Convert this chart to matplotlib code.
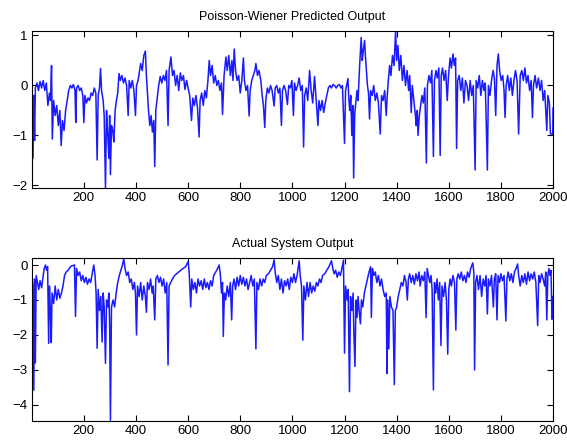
import numpy as np
import matplotlib
matplotlib.use("Agg")
import matplotlib.pyplot as plt

plt.rcParams['font.family'] = ['Liberation Sans', 'DejaVu Sans']

# predicted output (sample index, value)
t_pred = [1, 5, 8, 11, 14, 20, 26, 32, 38, 44, 50, 56, 62, 68, 72, 76, 79, 84, 90, 96,
          102, 108, 113, 118, 124, 130, 136, 142, 148, 154, 160, 166, 169, 172, 178, 184, 190, 196, 200, 204,
          210, 216, 222, 228, 234, 240, 246, 251, 255, 260, 264, 268, 274, 278, 283, 287, 291, 296, 299, 302,
          306, 311, 315, 320, 325, 330, 335, 340, 346, 352, 358, 364, 370, 374, 380, 386, 392, 398, 402, 408,
          414, 418, 424, 430, 436, 440, 444, 448, 453, 458, 463, 468, 472, 476, 481, 487, 493, 499, 505, 511,
          517, 523, 527, 534, 540, 546, 552, 558, 564, 570, 576, 582, 588, 594, 600, 606, 613, 618, 624, 630,
          636, 642, 646, 652, 658, 664, 670, 676, 681, 686, 692, 698, 704, 710, 716, 722, 728, 732, 738, 745,
          750, 756, 762, 768, 772, 777, 782, 788, 794, 800, 806, 812, 816, 822, 828, 834, 838, 844, 850, 856,
          860, 866, 872, 879, 884, 889, 894, 898, 904, 910, 916, 922, 930, 934, 940, 946, 952, 958, 962, 968,
          974, 981, 986, 992, 998, 1004, 1008, 1014, 1020, 1026, 1032, 1038, 1043, 1047, 1053, 1059, 1066, 1072, 1078, 1085,
          1090, 1098, 1102, 1108, 1114, 1120, 1126, 1132, 1138, 1144, 1150, 1156, 1162, 1168, 1174, 1180, 1186, 1192, 1200, 1204,
          1208, 1213, 1217, 1220, 1224, 1228, 1232, 1235, 1239, 1244, 1248, 1252, 1258, 1264, 1268, 1272, 1277, 1280, 1283, 1288,
          1292, 1296, 1300, 1306, 1312, 1318, 1324, 1330, 1337, 1342, 1348, 1354, 1360, 1364, 1368, 1373, 1378, 1384, 1390, 1396,
          1400, 1405, 1410, 1416, 1422, 1428, 1434, 1440, 1446, 1450, 1456, 1460, 1466, 1472, 1475, 1479, 1482, 1487, 1492, 1497,
          1502, 1508, 1514, 1518, 1524, 1530, 1535, 1541, 1545, 1551, 1556, 1562, 1567, 1571, 1576, 1582, 1588, 1594, 1599, 1605,
          1610, 1616, 1621, 1626, 1630, 1634, 1640, 1646, 1652, 1658, 1664, 1670, 1676, 1682, 1688, 1694, 1701, 1705, 1711, 1717,
          1723, 1729, 1735, 1740, 1748, 1752, 1758, 1764, 1770, 1775, 1780, 1785, 1790, 1795, 1801, 1807, 1812, 1816, 1820, 1826,
          1832, 1838, 1844, 1850, 1856, 1862, 1868, 1874, 1880, 1886, 1892, 1898, 1904, 1910, 1916, 1921, 1925, 1931, 1937, 1944,
          1950, 1956, 1962, 1968, 1976, 1980, 1986, 1990, 1999, 2000]
y_pred = [0.0, -1.46, -0.2, -1.1, -0.05, 0.05, -0.1, 0.08, -0.05, 0.1, -0.1, 0.05, -0.4, -0.15, -0.3, 0.4, -1.07, -0.3, -0.6, -0.4,
          -0.8, -0.5, -1.2, -0.7, -0.9, -0.5, -0.3, -0.1, 0.0, -0.05, 0.02, -0.1, -0.74, -0.05, 0.0, -0.1, -0.05, -0.2, -0.74, -0.2,
          -0.35, -0.25, -0.3, -0.15, -0.2, -0.05, -0.15, -1.49, -0.2, -0.05, 0.34, -0.1, -0.3, -0.6, -2.05, -0.5, -0.9, -1.46, -0.6, -1.78,
          -0.8, -0.9, -1.13, -0.5, -0.3, -0.15, 0.24, 0.1, 0.2, 0.05, 0.15, 0.0, -0.6, 0.1, -0.05, 0.1, -0.1, -0.6, 0.0, 0.1,
          0.3, 0.44, 0.3, 0.6, 0.69, 0.2, -0.15, -0.5, -0.8, -0.6, -0.93, -0.7, -1.62, -0.5, -0.28, 0.0, 0.18, 0.05, 0.2, 0.1,
          0.3, -0.8, 0.3, 0.57, 0.2, 0.3, 0.0, 0.2, -0.1, 0.25, 0.1, 0.2, -0.08, 0.1, -0.05, -0.2, -0.7, -0.25, -0.4, -0.2,
          -0.45, -1.03, -0.3, -0.15, -0.4, -0.1, -0.25, 0.1, 0.5, 0.2, 0.4, 0.05, 0.2, 0.0, 0.1, -0.1, 0.05, -0.58, 0.2, 0.57,
          0.3, 0.6, 0.2, 0.5, 0.1, 0.73, 0.3, 0.1, 0.2, -0.15, 0.1, 0.55, 0.1, -0.1, 0.0, -0.61, -0.1, 0.1, 0.2, 0.3,
          0.44, 0.2, 0.3, 0.1, -0.2, -0.4, -0.84, -0.3, -0.05, -0.15, 0.0, -0.1, -0.41, -0.05, 0.0, -0.15, -0.05, -0.8, -0.1, 0.0,
          -0.1, -0.38, 0.0, -0.05, 0.1, -0.6, 0.05, -0.1, 0.0, 0.15, -0.1, 0.0, -1.23, -0.2, -0.05, -0.3, 0.3, -0.1, -0.35, 0.18,
          -0.2, -0.8, -0.3, -0.5, -0.3, -0.54, -0.35, -0.2, -0.05, 0.0, -0.05, 0.02, 0.0, -0.05, 0.0, 0.02, -0.05, 0.0, -1.16, -0.1,
          0.0, 0.14, -0.3, -0.5, -0.2, -1.0, -0.4, -1.85, -0.6, -0.3, -0.1, -0.3, 0.4, 0.96, 0.5, 0.7, 0.9, 0.6, 0.37, 0.0,
          -0.15, -0.67, -0.1, -0.2, 0.0, -0.3, -0.15, -0.35, -0.97, -0.2, -0.3, -0.1, -0.6, -0.2, 0.1, 0.4, 0.2, 0.6, 0.4, 1.09,
          0.5, 0.8, 0.3, 0.6, 0.1, 0.4, 0.0, 0.3, -0.1, 0.2, -0.54, 0.0, -0.3, -0.6, -0.8, -0.5, -1.0, -0.6, -0.4, -0.2,
          -0.35, -0.05, -1.55, 0.0, 0.2, 0.05, 0.3, -1.42, 0.1, 0.3, 0.15, 0.35, -1.4, 0.2, 0.35, 0.1, 0.3, -0.3, 0.2, 0.55,
          0.35, 0.63, 0.4, 0.55, -1.26, 0.1, 0.2, -0.1, 0.15, -0.35, 0.1, 0.0, -0.3, 0.1, -0.2, 0.0, -1.69, 0.1, -0.05, 0.2,
          -0.2, 0.1, -0.1, 0.05, -1.69, 0.0, -0.2, 0.1, 0.3, 0.15, -0.6, 0.4, 0.63, 0.3, 0.1, 0.2, -0.1, -0.64, 0.0, 0.2,
          -0.1, 0.15, -0.2, 0.1, 0.3, 0.1, -0.97, 0.2, 0.3, 0.1, 0.35, 0.05, 0.2, -0.1, 0.1, -0.64, 0.0, 0.2, -0.05, 0.15,
          -0.1, 0.1, -0.3, -0.1, -0.9, -0.2, -0.35, -0.97, -0.97, -0.45]

# actual system output
t_act = [1, 4, 8, 11, 14, 17, 22, 27, 32, 38, 44, 48, 53, 57, 61, 65, 68, 72, 75, 78,
         84, 90, 96, 102, 108, 114, 120, 126, 132, 140, 148, 156, 164, 168, 172, 178, 184, 190, 196, 202,
         208, 214, 220, 226, 232, 238, 243, 247, 251, 255, 260, 265, 270, 274, 278, 283, 287, 292, 296, 299,
         302, 306, 312, 318, 324, 330, 336, 342, 348, 353, 358, 364, 370, 376, 382, 388, 394, 398, 402, 406,
         412, 418, 424, 430, 436, 440, 444, 450, 456, 462, 466, 472, 476, 482, 488, 494, 500, 506, 512, 518,
         523, 527, 533, 540, 548, 556, 564, 572, 580, 590, 600, 604, 610, 614, 620, 626, 632, 638, 644, 650,
         656, 662, 668, 674, 680, 686, 692, 698, 706, 713, 719, 724, 728, 732, 735, 739, 744, 750, 756, 762,
         767, 771, 776, 782, 788, 794, 800, 806, 812, 818, 824, 830, 836, 842, 848, 854, 860, 864, 870, 876,
         882, 888, 894, 900, 908, 916, 924, 930, 934, 940, 946, 952, 958, 964, 970, 976, 982, 988, 994, 1000,
         1006, 1012, 1018, 1022, 1026, 1030, 1035, 1040, 1044, 1050, 1056, 1062, 1068, 1074, 1080, 1086, 1092, 1098, 1104, 1110,
         1116, 1124, 1132, 1140, 1150, 1155, 1160, 1166, 1172, 1178, 1184, 1190, 1196, 1200, 1204, 1210, 1214, 1219, 1223, 1228,
         1233, 1236, 1240, 1244, 1248, 1252, 1256, 1261, 1265, 1270, 1276, 1282, 1288, 1294, 1300, 1303, 1307, 1312, 1318, 1324,
         1330, 1336, 1342, 1348, 1354, 1360, 1363, 1366, 1370, 1374, 1380, 1386, 1391, 1395, 1400, 1406, 1412, 1418, 1424, 1430,
         1436, 1441, 1445, 1450, 1456, 1462, 1468, 1474, 1480, 1486, 1490, 1496, 1502, 1508, 1513, 1517, 1522, 1527, 1532, 1536,
         1541, 1545, 1550, 1555, 1560, 1565, 1570, 1574, 1580, 1586, 1591, 1596, 1600, 1605, 1610, 1616, 1622, 1627, 1631, 1636,
         1642, 1648, 1654, 1660, 1666, 1672, 1678, 1684, 1692, 1696, 1699, 1703, 1708, 1714, 1720, 1726, 1732, 1738, 1743, 1748,
         1752, 1758, 1764, 1771, 1775, 1780, 1785, 1789, 1795, 1800, 1806, 1812, 1819, 1823, 1828, 1834, 1840, 1846, 1852, 1858,
         1864, 1868, 1874, 1880, 1886, 1892, 1898, 1904, 1910, 1916, 1922, 1928, 1934, 1941, 1945, 1950, 1956, 1962, 1968, 1972,
         1976, 1980, 1984, 1988, 1992, 1996, 2000]
y_act = [-0.3, -0.6, -3.58, -0.4, -2.8, -0.3, -0.5, -0.7, -0.45, -0.65, -0.3, -0.1, 0.0, -0.15, -0.05, -2.24, -0.6, -1.4, -2.22, -0.8,
         -1.1, -0.6, -1.0, -0.7, -0.95, -0.8, -0.6, -0.3, -0.2, -0.15, -0.05, -0.02, 0.0, -1.47, -0.1, -0.3, -0.2, -0.45, -0.3, -0.5,
         -0.35, -0.55, -0.4, -0.5, -0.25, 0.0, -0.3, -0.8, -2.38, -0.7, -1.3, -0.9, -2.2, -0.8, -1.2, -2.81, -1.0, -1.2, -0.8, -1.7,
         -4.44, -1.2, -1.0, -1.2, -0.8, -0.5, -0.3, -0.15, 0.0, 0.18, -0.1, -0.3, -0.2, -0.5, -0.4, -0.7, -0.5, -0.8, -2.0, -0.6,
         -0.9, -0.5, -1.0, -0.6, -0.9, -1.35, -0.5, -0.7, -0.4, -0.8, -0.6, -1.57, -0.4, -0.3, -0.5, -0.35, -0.6, -0.4, -0.8, -0.5,
         -2.86, -0.6, -0.5, -0.4, -0.3, -0.25, -0.2, -0.15, -0.1, -0.05, 0.1, -0.2, -1.2, -0.4, -0.7, -0.5, -0.8, -0.4, -0.6, -0.45,
         -0.7, -0.4, -0.65, -0.5, -0.7, -0.45, -0.6, -0.3, -0.2, -0.1, 0.0, -0.3, -0.8, -0.5, -2.04, -0.8, -1.0, -0.6, -0.9, -0.5,
         -1.57, -0.6, -0.4, -0.7, -0.35, -0.6, -0.3, -0.55, -0.35, -0.6, -0.4, -0.7, -0.5, -0.3, -0.6, -0.4, -2.4, -0.5, -0.7, -0.4,
         -0.6, -0.4, -0.5, -0.3, -0.25, -0.15, -0.05, 0.15, -0.2, -0.5, -0.3, -0.7, -0.4, -0.8, -0.45, -0.6, -0.4, -0.7, -0.35, -0.5,
         -0.25, -0.5, -0.3, -0.1, 0.12, -0.3, -0.6, -2.15, -0.6, -1.0, -0.5, -0.9, -0.5, -0.8, -0.6, -0.75, -0.5, -0.6, -0.4, -0.5,
         -0.3, -0.25, -0.15, -0.05, 0.12, -0.1, -0.25, -0.15, -0.35, -0.2, -0.3, -0.1, 0.14, -2.52, -0.6, -1.0, -0.7, -3.62, -0.9, -1.3,
         -0.8, -2.0, -2.9, -1.0, -1.5, -0.9, -1.3, -1.68, -1.0, -1.2, -0.8, -0.6, -0.4, -0.2, -0.05, -1.5, -0.1, -0.3, -0.2, -0.5,
         -0.3, -0.6, -0.4, -0.7, -0.9, -0.8, -3.1, -1.0, -2.4, -0.9, -1.2, -1.3, -3.42, -1.3, -1.2, -0.9, -0.7, -0.5, -0.6, -0.3,
         -0.5, -1.0, -0.4, -0.25, -0.5, -0.3, -0.55, -0.25, -0.45, -0.2, -0.6, -0.3, -0.45, -0.2, -1.5, -0.1, -0.3, -0.5, -0.3, -0.7,
         -3.57, -0.5, -0.8, -0.4, -1.0, -0.5, -2.3, -0.6, -0.9, -0.5, -1.0, -2.55, -0.7, -0.4, -0.6, -0.3, -0.5, -1.86, -0.4, -0.25,
         -0.4, -0.2, -0.45, -0.3, -0.5, -0.2, -0.35, -0.1, 0.06, -0.2, -3.0, -0.5, -0.3, -0.7, -0.3, -0.9, -0.4, -0.6, -0.3, -1.4,
         -0.4, -0.6, -0.3, -1.2, -0.4, -0.25, -1.57, -0.3, -0.5, -0.25, -0.45, -0.3, -1.6, -0.4, -0.2, -0.45, -0.25, -0.5, -0.2, -0.1,
         0.03, -0.3, -0.6, -0.3, -0.5, -0.25, -0.55, -0.2, -0.45, -0.25, -0.4, -0.2, -0.5, -1.73, -0.3, -0.5, -0.25, -0.4, -0.6, -0.2,
         -1.57, -0.3, -0.1, -0.3, -0.15, -1.55, -0.9]

titles = ["Poisson-Wiener Predicted Output", "Actual System Output"]
xticks = list(range(200, 2001, 200))

fig = plt.figure(figsize=(5.67, 4.46), dpi=100)
ax1 = fig.add_axes([0.0564, 0.5785, 0.919, 0.352])
ax2 = fig.add_axes([0.0564, 0.056, 0.919, 0.3655])

for ax, t, y, title in [(ax1, t_pred, y_pred, titles[0]), (ax2, t_act, y_act, titles[1])]:
    ax.plot(t, y, color="#1a1aff", lw=1.1)
    ax.set_xlim(1, 2000)
    ax.set_xticks(xticks)
    ax.set_title(title, fontsize=9, pad=8)
    ax.tick_params(direction="in", top=True, right=True, labelsize=9.5, length=4, width=0.8, pad=3)
    for s in ax.spines.values():
        s.set_linewidth(0.8)

ax1.set_ylim(-2.05, 1.09)
ax1.set_yticks([-2, -1, 0, 1])
ax2.set_ylim(-4.46, 0.2)
ax2.set_yticks([-4, -3, -2, -1, 0])

fig.savefig("out.png", dpi=100)
